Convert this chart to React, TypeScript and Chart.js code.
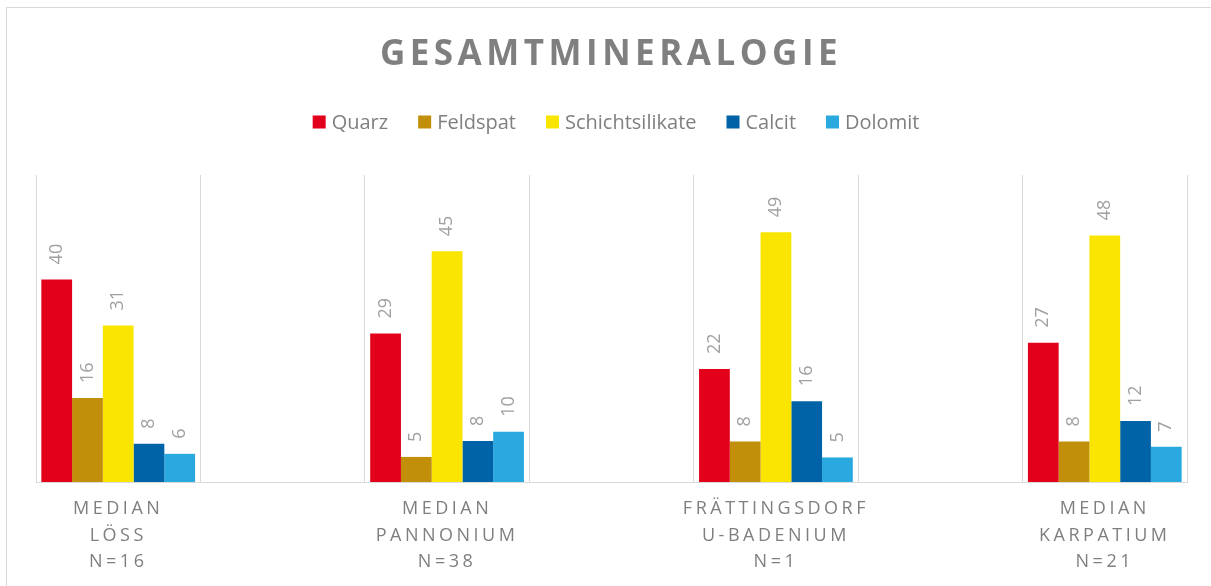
import { useEffect, useRef } from 'react';
import { Chart, registerables } from 'chart.js';

Chart.register(...registerables);

const titleText = 'GESAMTMINERALOGIE';
const categories: string[][] = [
  ['MEDIAN', 'LÖSS', 'N=16'],
  [''],
  ['MEDIAN', 'PANNONIUM', 'N=38'],
  [''],
  ['FRÄTTINGSDORF', 'U-BADENIUM', 'N=1'],
  [''],
  ['MEDIAN', 'KARPATIUM', 'N=21'],
];
const seriesNames = ['Quarz', 'Feldspat', 'Schichtsilikate', 'Calcit', 'Dolomit'];
const seriesColors = ['#E2001A', '#C18F0A', '#F9E500', '#0063A8', '#29A9DF'];
const quarz = [39.6, null, 29.0, null, 22.1, null, 27.2];
const feldspat = [16.4, null, 4.9, null, 7.9, null, 7.9];
const schichtsilikate = [30.6, null, 45.1, null, 48.8, null, 48.2];
const calcit = [7.5, null, 8.0, null, 15.8, null, 11.9];
const dolomit = [5.5, null, 9.8, null, 4.8, null, 6.9];
const yMax = 60;

const seriesValues = [quarz, feldspat, schichtsilikate, calcit, dolomit];

const decorPlugin = {
  id: 'decor',
  afterDraw(chart: any) {
    const ctx = chart.ctx as CanvasRenderingContext2D;
    const xScale = chart.scales.x;
    ctx.save();
    // outer border
    ctx.strokeStyle = '#D9D9D9';
    ctx.lineWidth = 1;
    ctx.strokeRect(6.5, 7.5, 1230, 620);

    // title
    const anyCtx = ctx as any;
    ctx.fillStyle = '#7F7F7F';
    ctx.font = 'bold 35px "Open Sans"';
    anyCtx.letterSpacing = '4.5px';
    ctx.textAlign = 'center';
    ctx.textBaseline = 'middle';
    ctx.fillText(titleText, 611, 55);

    // legend
    anyCtx.letterSpacing = '0px';
    ctx.font = '20px "Open Sans"';
    ctx.textAlign = 'left';
    const box = 13;
    const boxGap = 6;
    const itemGap = 30;
    const widths = seriesNames.map((n) => box + boxGap + ctx.measureText(n).width);
    const total = widths.reduce((a, b) => a + b, 0) + itemGap * (seriesNames.length - 1);
    let lx = 616 - total / 2;
    const ly = 122;
    seriesNames.forEach((n, i) => {
      ctx.fillStyle = seriesColors[i];
      ctx.fillRect(lx, ly - box / 2, box, box);
      ctx.fillStyle = '#7F7F7F';
      ctx.fillText(n, lx + box + boxGap, ly + 1);
      lx += widths[i] + itemGap;
    });

    // category labels
    ctx.font = '18px "Open Sans"';
    ctx.fillStyle = '#7F7F7F';
    ctx.textAlign = 'center';
    const spacing = 3.5;
    anyCtx.letterSpacing = spacing + 'px';
    const lineYs = [509, 536, 562];
    categories.forEach((lines, i) => {
      const x = xScale.getPixelForValue(i);
      lines.forEach((line, j) => {
        if (line) ctx.fillText(line, x, lineYs[j]);
      });
    });

    // data labels
    anyCtx.letterSpacing = '0px';
    ctx.font = '18px "Open Sans"';
    ctx.fillStyle = '#A0A0A0';
    ctx.textAlign = 'left';
    ctx.textBaseline = 'middle';
    chart.data.datasets.forEach((ds: any, di: number) => {
      const meta = chart.getDatasetMeta(di);
      meta.data.forEach((el: any, idx: number) => {
        const v = ds.data[idx];
        if (v === null || v === undefined) return;
        ctx.save();
        ctx.translate(el.x, el.y - 15);
        ctx.rotate(-Math.PI / 2);
        ctx.fillText(String(Math.round(v)), 0, 0);
        ctx.restore();
      });
    });
    ctx.restore();
  },
};

export default function App() {
  const ref = useRef<HTMLCanvasElement | null>(null);
  useEffect(() => {
    if (!ref.current) return;
    const chart = new Chart(ref.current, {
      type: 'bar',
      data: {
        labels: categories.map((c) => c.join(' ')),
        datasets: seriesNames.map((name, i) => ({
          label: name,
          data: seriesValues[i] as any,
          backgroundColor: seriesColors[i],
          borderWidth: 0,
          categoryPercentage: 0.935,
          barPercentage: 1,
          skipNull: false,
        })),
      },
      options: {
        responsive: false,
        animation: false,
        layout: { padding: { left: 36, right: 24, top: 175, bottom: 104 } },
        plugins: {
          legend: { display: false },
          title: { display: false },
          tooltip: { enabled: false },
        },
        scales: {
          x: {
            display: true,
            ticks: { display: false },
            grid: { display: true, offset: true, color: '#D9D9D9', lineWidth: 1, drawTicks: false },
            border: { display: true, color: '#D9D9D9', width: 1 },
          },
          y: {
            display: false,
            min: 0,
            max: yMax,
          },
        },
      },
      plugins: [decorPlugin],
    });
    return () => chart.destroy();
  }, []);
  return (
    <div style={{ position: 'absolute', left: 0, top: 0, width: 1211, height: 586, background: '#fff' }}>
      <canvas ref={ref} width={1211} height={586} style={{ display: 'block' }} />
    </div>
  );
}
